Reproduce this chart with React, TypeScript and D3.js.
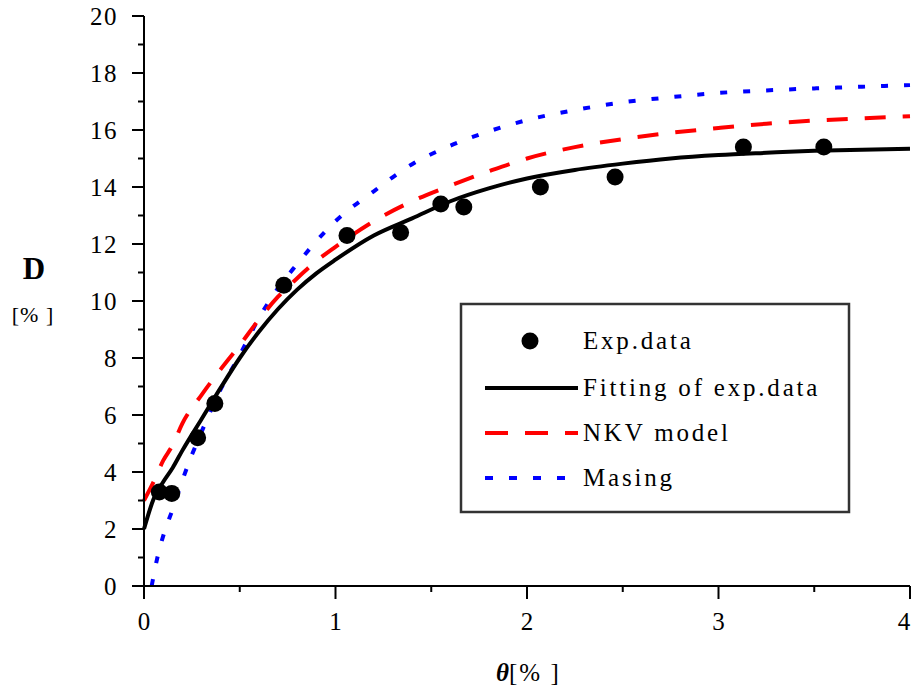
import React from "react";
import * as d3 from "d3";

// ---------- data ----------
const expTheta = [0.08, 0.145, 0.28, 0.37, 0.73, 1.06, 1.34, 1.55, 1.67, 2.07, 2.46, 3.13, 3.55];
const expD = [3.3, 3.25, 5.2, 6.4, 10.55, 12.3, 12.4, 13.4, 13.3, 14.0, 14.35, 15.4, 15.4];

const fitTheta = [0, 0.05, 0.1, 0.15, 0.2, 0.3, 0.4, 0.5, 0.6, 0.7, 0.8, 0.9, 1.0, 1.2, 1.4, 1.6, 1.8, 2.0, 2.25, 2.5, 2.75, 3.0, 3.25, 3.5, 3.75, 4.0];
const fitD = [2.0, 3.05, 3.65, 4.15, 4.75, 5.85, 6.95, 8.0, 8.92, 9.72, 10.4, 10.97, 11.45, 12.3, 12.9, 13.5, 13.95, 14.3, 14.6, 14.82, 15.0, 15.12, 15.2, 15.27, 15.31, 15.34];

const nkvTheta = [0, 0.05, 0.1, 0.15, 0.2, 0.3, 0.4, 0.5, 0.6, 0.7, 0.8, 0.9, 1.0, 1.2, 1.4, 1.6, 1.8, 2.0, 2.25, 2.5, 2.75, 3.0, 3.25, 3.5, 3.75, 4.0];
const nkvD = [3.0, 3.65, 4.4, 4.95, 5.7, 6.7, 7.6, 8.45, 9.35, 10.15, 10.8, 11.4, 11.9, 12.8, 13.5, 14.05, 14.55, 15.0, 15.4, 15.68, 15.9, 16.07, 16.22, 16.33, 16.41, 16.48];

const masTheta = [0.04, 0.07, 0.1, 0.15, 0.2, 0.25, 0.3, 0.4, 0.5, 0.6, 0.7, 0.8, 0.9, 1.0, 1.2, 1.4, 1.6, 1.8, 2.0, 2.25, 2.5, 2.75, 3.0, 3.25, 3.5, 3.75, 4.0];
const masD = [0.0, 1.0, 1.75, 2.7, 3.7, 4.6, 5.4, 6.9, 8.1, 9.4, 10.45, 11.3, 12.1, 12.8, 13.85, 14.8, 15.45, 15.95, 16.35, 16.7, 16.97, 17.15, 17.3, 17.39, 17.46, 17.52, 17.58];

const xTicks = [0, 1, 2, 3, 4];
const xMinorTicks = [0.5, 1.5, 2.5, 3.5];
const yTicks = [0, 2, 4, 6, 8, 10, 12, 14, 16, 18, 20];
const yMinorTicks = [1, 3, 5, 7, 9, 11, 13, 15, 17, 19];

const legendLabels = ["Exp.data", "Fitting of exp.data", "NKV model", "Masing"];

// ---------- layout ----------
const W = 914;
const H = 690;
const FONT = "'Liberation Serif', 'Times New Roman', serif";

export default function App() {
  const x = d3.scaleLinear().domain([0, 4]).range([144, 910]);
  const y = d3.scaleLinear().domain([0, 20]).range([586, 16]);

  const mk = (ts: number[], ds: number[]) =>
    d3
      .line<number>()
      .x((_, i) => x(ts[i]))
      .y((d) => y(d))
      .curve(d3.curveMonotoneX)(ds) as string;

  const fitPath = mk(fitTheta, fitD);
  const nkvPath = mk(nkvTheta, nkvD);
  const masPath = mk(masTheta, masD);

  const lg = { x: 461, y: 304, w: 388, h: 208 };
  const rowY = [341, 388, 433, 478];
  const textX = 583;

  return (
    <svg
      width={W}
      height={H}
      style={{ position: "absolute", left: 0, top: 0, background: "#fff" }}
      fontFamily={FONT}
    >
      {/* curves */}
      <path d={masPath} fill="none" stroke="#0000ff" strokeWidth={4} strokeDasharray="7 16" />
      <path d={nkvPath} fill="none" stroke="#ff0000" strokeWidth={4} strokeDasharray="21 17" />
      <path d={fitPath} fill="none" stroke="#000" strokeWidth={4} />
      {expTheta.map((t, i) => (
        <circle key={i} cx={x(t)} cy={y(expD[i])} r={8.5} fill="#000" />
      ))}

      {/* y axis */}
      <line x1={x(0)} x2={x(0)} y1={y(20)} y2={y(0) + 13} stroke="#000" strokeWidth={2} />
      {yTicks.map((v) => (
        <g key={"y" + v}>
          <line x1={x(0) - 12} x2={x(0)} y1={y(v)} y2={y(v)} stroke="#000" strokeWidth={2} />
          <text x={118} y={y(v)} dy="0.35em" textAnchor="end" fontSize={25} letterSpacing={1.5}>
            {v}
          </text>
        </g>
      ))}
      {yMinorTicks.map((v) => (
        <line key={"ym" + v} x1={x(0) - 6} x2={x(0)} y1={y(v)} y2={y(v)} stroke="#000" strokeWidth={2} />
      ))}

      {/* x axis */}
      <line x1={x(0)} x2={x(4)} y1={y(0)} y2={y(0)} stroke="#000" strokeWidth={2} />
      {xTicks.map((v) => (
        <g key={"x" + v}>
          <line x1={x(v)} x2={x(v)} y1={y(0)} y2={y(0) + 13} stroke="#000" strokeWidth={2} />
          <text x={Math.min(x(v), 904)} y={630} textAnchor="middle" fontSize={25}>
            {v}
          </text>
        </g>
      ))}
      {xMinorTicks.map((v) => (
        <line key={"xm" + v} x1={x(v)} x2={x(v)} y1={y(0)} y2={y(0) + 6} stroke="#000" strokeWidth={2} />
      ))}

      {/* axis titles */}
      <text x={34} y={279} textAnchor="middle" fontSize={31} fontWeight="bold">
        D
      </text>
      <text x={33} y={322} textAnchor="middle" fontSize={22} letterSpacing={1}>
        [% ]
      </text>
      <text x={496} y={681} fontSize={25}>
        <tspan fontWeight="bold" fontStyle="italic">θ</tspan>
        <tspan letterSpacing={2}>[% ]</tspan>
      </text>

      {/* legend */}
      <rect x={lg.x} y={lg.y} width={lg.w} height={lg.h} fill="#fff" stroke="#333" strokeWidth={2.5} />
      <circle cx={530} cy={rowY[0]} r={8.5} fill="#000" />
      <line x1={485} x2={578} y1={rowY[1]} y2={rowY[1]} stroke="#000" strokeWidth={4} />
      <line x1={485} x2={578} y1={rowY[2]} y2={rowY[2]} stroke="#ff0000" strokeWidth={4} strokeDasharray="23 17" />
      <line x1={485} x2={578} y1={rowY[3]} y2={rowY[3]} stroke="#0000ff" strokeWidth={4} strokeDasharray="8 16" />
      {legendLabels.map((l, i) => (
        <text key={l} x={textX} y={rowY[i]} dy="0.33em" fontSize={25} letterSpacing={2.8}>
          {l}
        </text>
      ))}
    </svg>
  );
}
